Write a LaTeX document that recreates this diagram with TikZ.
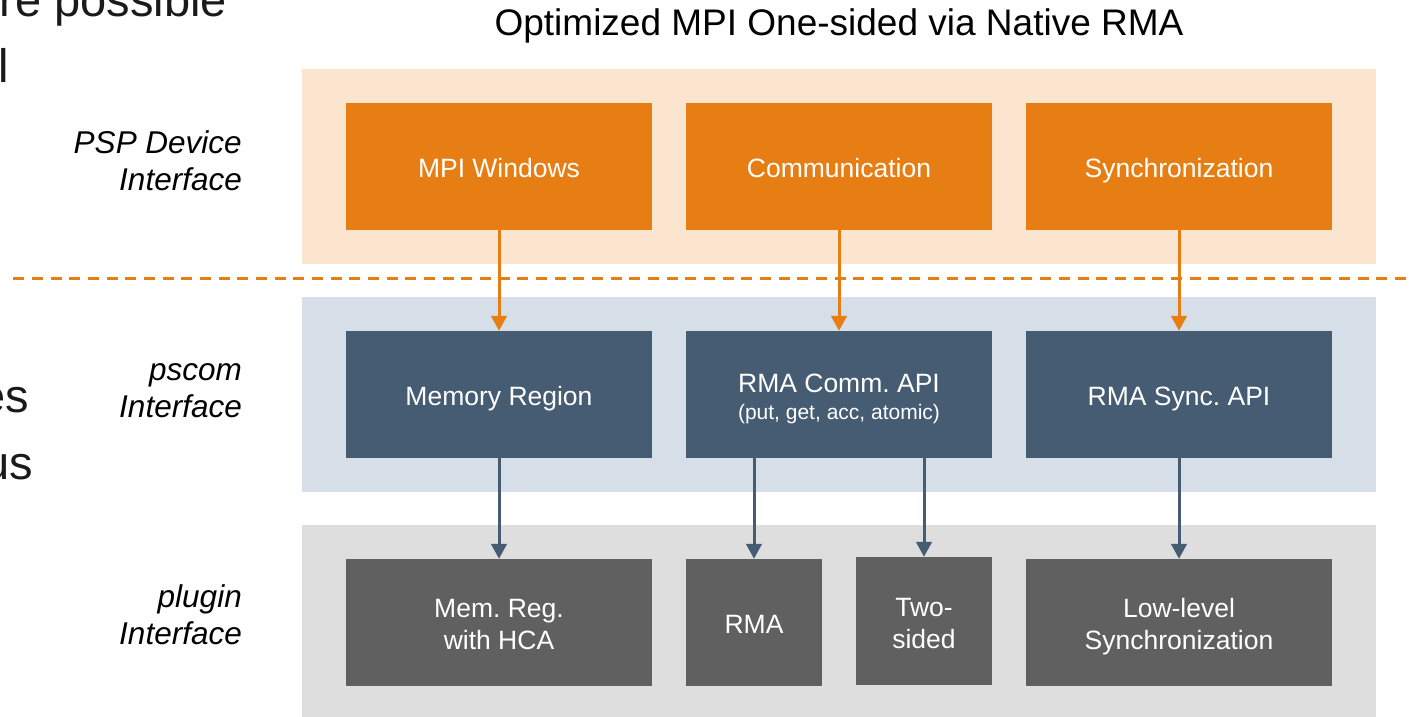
\documentclass[tikz,border=0pt]{standalone}
\usepackage{fontspec}
\setmainfont{Liberation Sans}
\frenchspacing
\usetikzlibrary{arrows.meta}
\usetikzlibrary{backgrounds}
\usetikzlibrary{fit}
\usetikzlibrary{positioning}

\definecolor{pspOrange}{HTML}{E67E13}
\definecolor{pspBand}{HTML}{FCE5CF}
\definecolor{pscomBlue}{HTML}{465C72}
\definecolor{pscomBand}{HTML}{D6DEE7}
\definecolor{pluginGrey}{HTML}{606060}
\definecolor{pluginBand}{HTML}{DEDEDE}
\definecolor{slideText}{HTML}{1A1A1A}

\newcommand{\boxfont}{\fontsize{26.5}{32}\selectfont}
\newcommand{\notefont}{\fontsize{21}{25}\selectfont}
\newcommand{\layerfont}{\fontsize{31.5}{37}\selectfont\itshape}

\begin{document}
\begin{tikzpicture}[x=1pt,y=-1pt,
    blockbox/.style={rectangle,minimum width=306,minimum height=127,inner sep=0,
      text=white,font=\boxfont,align=center},
    oneline/.style={text height=21pt,text depth=0pt},
    psp/.style={blockbox,fill=pspOrange},
    pscom/.style={blockbox,fill=pscomBlue},
    plugin/.style={blockbox,fill=pluginGrey},
    band/.style={rectangle,inner xsep=44,inner ysep=34},
    lbl/.style={anchor=east,inner sep=0,align=right,font=\layerfont},
    frag/.style={anchor=base east,inner sep=0,text=slideText,font=\fontsize{47}{56}\selectfont},
    flow/.style={line width=3pt,-{Triangle[width=15.5pt,length=15pt]}}]

  \useasboundingbox (0,0) rectangle (1409,717);

  % cut-off text of the slide
  \node [frag] (fragA) at (227,17)  {re possible};
  \node [frag] (fragB) at (9,82)    {l};
  \node [frag] (fragC) at (29,412)  {es};
  \node [frag] (fragD) at (33,479)  {us};

  \node [anchor=base,inner sep=0,font=\fontsize{37}{44}\selectfont] (title) at (839,36)
    {Optimized MPI One-sided via Native RMA};

  % PSP device layer
  \node [psp,oneline] (win)  at (499,166.5)  {MPI Windows};
  \node [psp,oneline] (comm) at (839,166.5)  {Communication};
  \node [psp,oneline] (sync) at (1179,166.5) {Synchronization};

  % pscom layer
  \node [pscom,oneline] (memreg)  at (499,394.5)  {Memory Region};
  \node [pscom] (rmacomm) at (839,394.5)
    {\rule{0pt}{27.5pt}RMA Comm. API\\[-5pt]{\notefont (put, get, acc, atomic)}};
  \node [pscom,oneline] (rmasync) at (1179,394.5) {RMA Sync. API};

  % plugin layer
  \node [plugin] (memhca) at (499,622.5) {\rule{0pt}{22pt}Mem. Reg.\\with HCA};
  \node [plugin,oneline,minimum width=136] (rma) at (754,622.5) {RMA};
  \node [plugin,minimum width=136,minimum height=128] (twosided) at (924,621)
    {\rule{0pt}{24pt}Two-\\sided};
  \node [plugin] (lowsync) at (1179,622.5) {\rule{0pt}{28pt}Low-level\\Synchronization};

  \begin{scope}[on background layer]
    \node [band,fill=pspBand,fit=(win) (sync)] (pspband) {};
    \node [band,fill=pscomBand,fit=(memreg) (rmasync)] (pscomband) {};
    \node [band,fill=pluginBand,fit=(memhca) (lowsync)] (pluginband) {};
  \end{scope}

  \node [lbl] (lblpsp)    at (242,161) {PSP Device\\Interface};
  \node [lbl] (lblpscom)  at (242,391) {pscom\\Interface};
  \node [lbl] (lblplugin) at (242,615) {plugin\\Interface};

  \coordinate (dashL) at (13.3,278);
  \coordinate (dashR) at (1409,278);
  \draw [pspOrange,line width=3pt,dash pattern=on 11pt off 7.67pt] (dashL) -- (dashR);

  \path [flow,pspOrange]
    (win)  edge (memreg)
    (comm) edge (rmacomm)
    (sync) edge (rmasync);

  \path [flow,pscomBlue]
    (memreg)                          edge (memhca)
    (rmacomm.south -| rma.north)      edge (rma)
    (rmacomm.south -| twosided.north) edge (twosided)
    (rmasync)                         edge (lowsync);

\end{tikzpicture}
\end{document}
